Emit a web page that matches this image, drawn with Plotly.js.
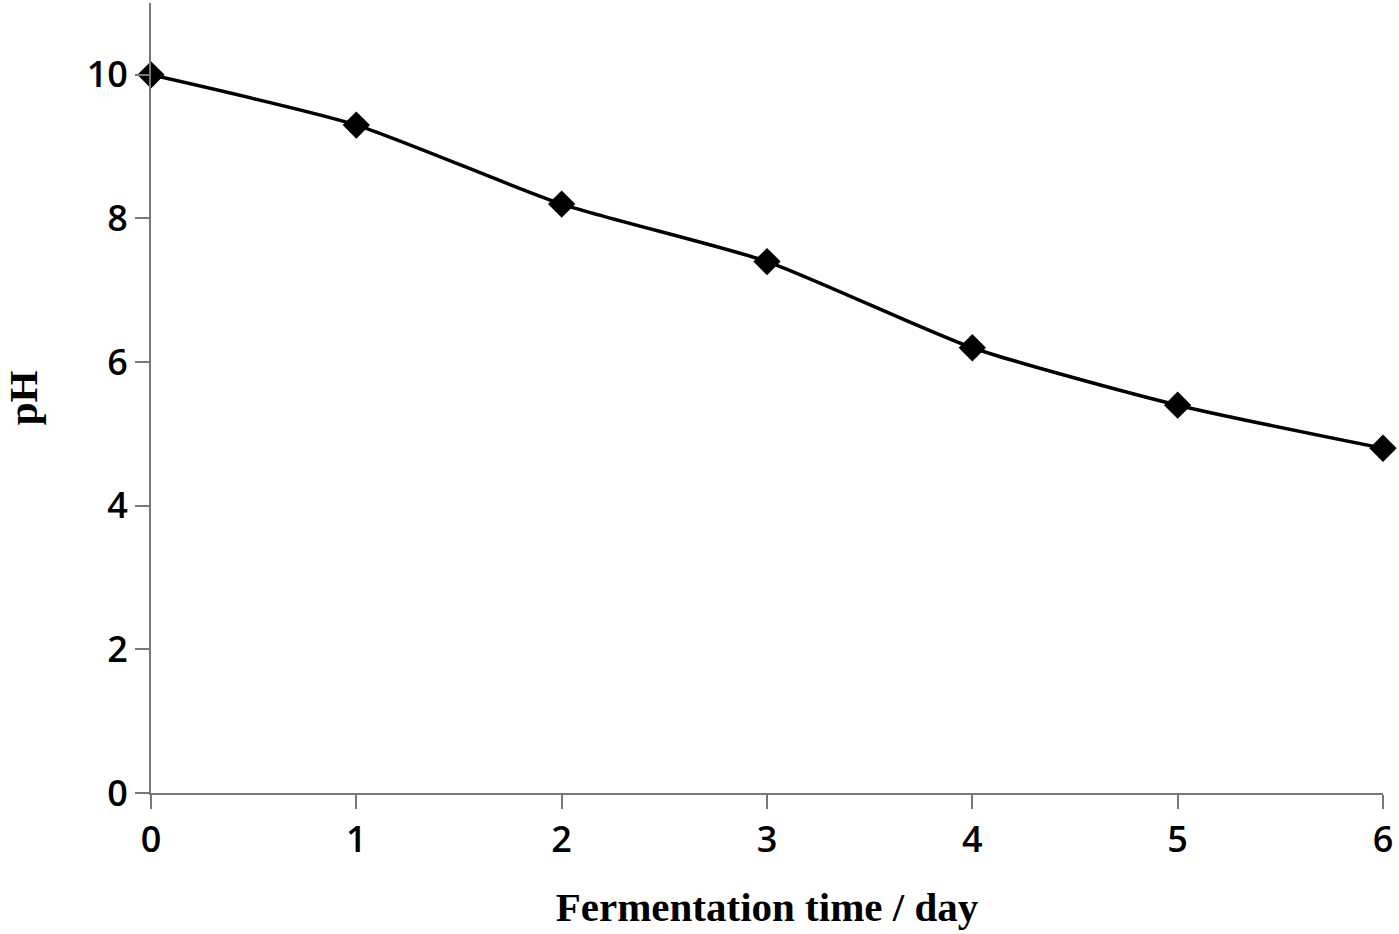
<!DOCTYPE html>
<html>
<head>
<meta charset="utf-8">
<script src="https://cdn.plot.ly/plotly-3.0.1.min.js"></script>
<style>
  html, body { margin: 0; padding: 0; background: #fff; }
  #graph { width: 1399px; height: 934px; }
</style>
</head>
<body>
<div id="graph"></div>
<script>
// Data
const days = [0, 1, 2, 3, 4, 5, 6];
const phValues = [10, 9.3, 8.2, 7.4, 6.2, 5.4, 4.8];
const yTicks = [0, 2, 4, 6, 8, 10];

const trace = {
    x: days,
    y: phValues,
    type: 'scatter',
    mode: 'lines+markers',
    cliponaxis: false,
    line: { color: '#000', width: 3.5, shape: 'spline', smoothing: 0.6 },
    marker: { symbol: 'diamond', size: 21, color: '#000' },
    showlegend: false
};

const tickFont = { family: 'Open Sans, Liberation Sans, sans-serif', size: 36, color: '#000', weight: 600 };
const titleFont = { family: 'Liberation Serif, Times New Roman, serif', size: 41, color: '#000', weight: 'bold' };

const layout = {
    width: 1399,
    height: 934,
    margin: { l: 151, r: 16, t: 3, b: 141 },
    paper_bgcolor: '#fff',
    plot_bgcolor: '#fff',
    xaxis: {
        range: [0, 6],
        tickvals: days,
        showgrid: false,
        zeroline: false,
        showline: true,
        linecolor: '#777',
        linewidth: 2,
        ticks: 'outside',
        ticklen: 14,
        tickwidth: 2,
        tickcolor: '#777',
        tickfont: tickFont,
        title: { text: 'Fermentation time / day', font: titleFont, standoff: 30 }
    },
    yaxis: {
        range: [0, 11],
        tickvals: yTicks,
        showgrid: false,
        zeroline: false,
        showline: true,
        linecolor: '#777',
        linewidth: 2,
        ticks: 'outside',
        ticklen: 14,
        tickwidth: 2,
        tickcolor: '#777',
        tickfont: tickFont,
        title: { text: 'pH', font: titleFont, standoff: 44 }
    }
};

Plotly.newPlot('graph', [trace], layout, { displayModeBar: false });
</script>
</body>
</html>
